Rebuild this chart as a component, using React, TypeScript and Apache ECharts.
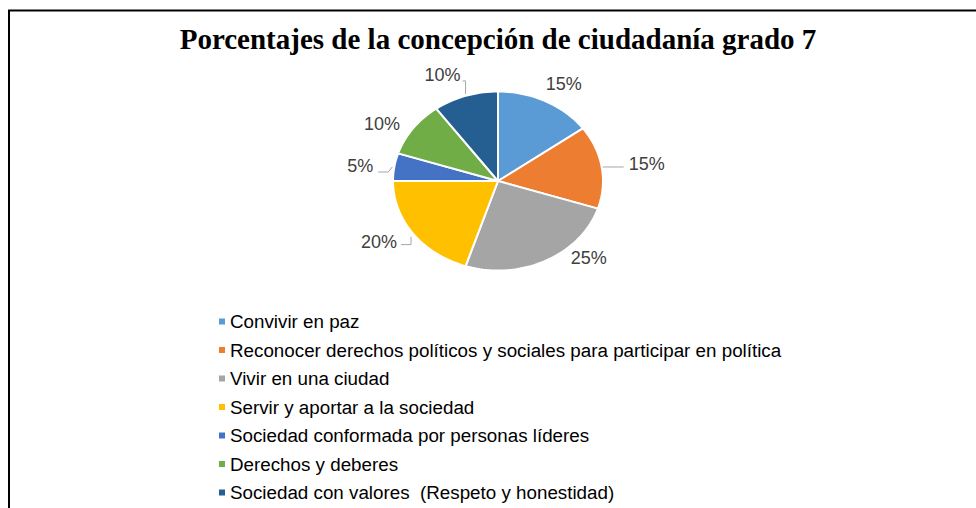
import React, { useEffect, useRef } from "react";
import * as echarts from "echarts";

const titleText = "Porcentajes de la concepción de ciudadanía grado 7";
const categories = [
  "Convivir en paz",
  "Reconocer derechos políticos y sociales para participar en política",
  "Vivir en una ciudad",
  "Servir y aportar a la sociedad",
  "Sociedad conformada por personas líderes",
  "Derechos y deberes",
  "Sociedad con valores  (Respeto y honestidad)",
];
const percentages = [15, 15, 25, 20, 5, 10, 10];
const colors = ["#5B9BD5", "#ED7D31", "#A5A5A5", "#FFC000", "#4472C4", "#70AD47", "#255E91"];

// layout (not data)
const CX = 498;
const CY = 181;
const RX = 105;
const RY = 89.5;
const labelOffsets: number[][] = [
  [18, -17],
  [45, -3],
  [43, -3],
  [-34, 8],
  [-34, -1],
  [-31, -4],
  [-23, -21],
];
const leaderLines: (number[][] | null)[] = [
  null,
  [[1, 0], [22, 0]],
  null,
  [[-2, 3], [-2, 11], [-12, 11]],
  [[-2, 0], [-6, 5], [-16, 5]],
  null,
  [[0, -2], [0, -15], [-3, -15]],
];

const total = percentages.reduce((a, b) => a + b, 0);
const starts = percentages.map((_, i) => percentages.slice(0, i).reduce((a, b) => a + b, 0));

function makeRender(i: number) {
  return (_params: any, api: any) => {
    const v = api.value(0);
    const a0 = -Math.PI / 2 + (2 * Math.PI * starts[i]) / total;
    const a1 = a0 + (2 * Math.PI * v) / total;
    const mid = (a0 + a1) / 2;
    const steps = Math.max(8, Math.ceil(((a1 - a0) / (2 * Math.PI)) * 180));
    const pts: number[][] = [[CX, CY]];
    for (let k = 0; k <= steps; k++) {
      const a = a0 + ((a1 - a0) * k) / steps;
      pts.push([CX + RX * Math.cos(a), CY + RY * Math.sin(a)]);
    }
    const px = CX + RX * Math.cos(mid);
    const py = CY + RY * Math.sin(mid);
    const [ox, oy] = labelOffsets[i];
    const children: any[] = [
      {
        type: "polygon",
        shape: { points: pts },
        style: { fill: colors[i], stroke: "#ffffff", lineWidth: 2, lineJoin: "round" },
      },
      {
        type: "text",
        x: px + ox,
        y: py + oy,
        style: {
          text: `${v}%`,
          fill: "#404040",
          fontSize: 18,
          fontFamily: "Arial, 'Liberation Sans', sans-serif",
          align: "center",
          verticalAlign: "middle",
        },
      },
    ];
    const ll = leaderLines[i];
    if (ll) {
      children.push({
        type: "polyline",
        shape: { points: ll.map(([dx, dy]) => [px + dx, py + dy]) },
        style: { stroke: "#A6A6A6", lineWidth: 1, fill: null },
      });
    }
    return { type: "group", children };
  };
}

export default function App() {
  const ref = useRef<HTMLDivElement>(null);
  useEffect(() => {
    if (!ref.current) return;
    const chart = echarts.init(ref.current, undefined, { renderer: "svg" });
    chart.setOption({
      animation: false,
      backgroundColor: "#ffffff",
      title: {
        text: titleText,
        left: 498,
        top: 24,
        textAlign: "center",
        padding: 0,
        textStyle: {
          fontFamily: "'Liberation Serif', 'Times New Roman', serif",
          fontWeight: "bold",
          fontSize: 29,
          color: "#000000",
        },
      },
      legend: {
        orient: "vertical",
        left: 219,
        top: 312,
        itemWidth: 6,
        itemHeight: 6,
        itemGap: 9.5,
        icon: "rect",
        padding: 0,
        selectedMode: false,
        data: categories,
        textStyle: {
          fontFamily: "Arial, 'Liberation Sans', sans-serif",
          fontSize: 18.8,
          lineHeight: 19,
          color: "#000000",
        },
      },
      graphic: [
        {
          type: "rect",
          shape: { x: 9, y: 10.5, width: 1000, height: 600 },
          style: { fill: "none", stroke: "#000000", lineWidth: 2 },
          silent: true,
          z: 100,
        },
      ],
      series: categories.map((name, i) => ({
        type: "custom",
        name,
        coordinateSystem: "none",
        silent: true,
        itemStyle: { color: colors[i] },
        data: [[percentages[i]]],
        renderItem: makeRender(i),
      })),
    });
    return () => chart.dispose();
  }, []);
  return (
    <div
      ref={ref}
      style={{ position: "fixed", left: 0, top: 0, width: 976, height: 508, background: "#fff" }}
    />
  );
}
